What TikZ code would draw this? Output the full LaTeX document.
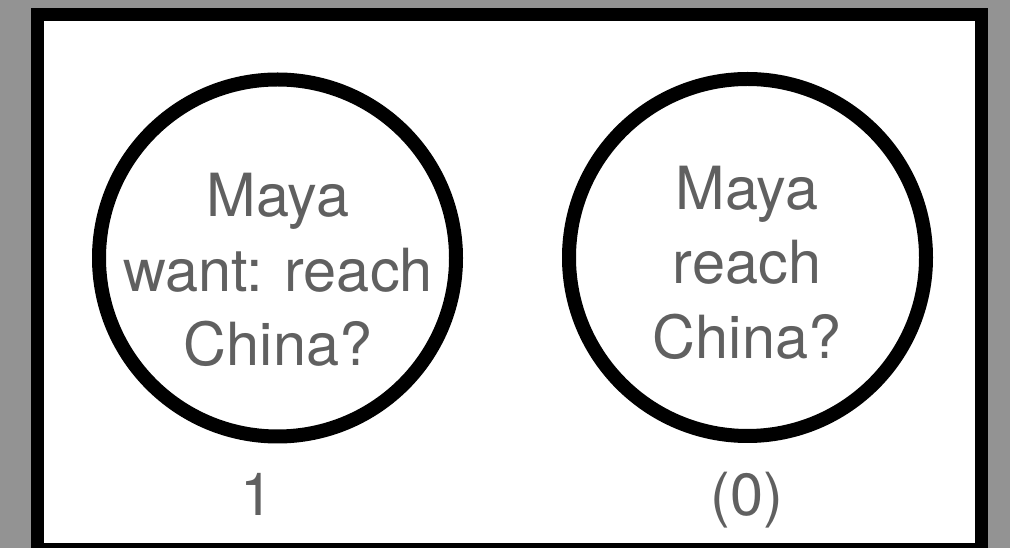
\documentclass[tikz,border=0pt]{standalone}
\usepackage{fontspec}
\setmainfont{TeX Gyre Heros}
\usetikzlibrary{positioning}

\definecolor{bggray}{RGB}{147,147,147}
\definecolor{txtgray}{RGB}{96,96,96}

\begin{document}
\begin{tikzpicture}[x=0.75pt,y=-0.75pt,
    bubble/.style={circle,draw=black,line width=10.5pt,fill=white,minimum size=267.75pt,inner sep=0pt},
    words/.style={align=center,inner sep=0pt,text=txtgray,font=\fontsize{44.6pt}{55.9pt}\selectfont}]
    \useasboundingbox (0,0) rectangle (1010,548);
    \fill[bggray] (0,0) rectangle (1010,548);
    \draw[line width=9.75pt,fill=white] (37.5,14.5) rectangle (981.5,549.5);
    \node[bubble] at (277.5,258) (4be17c02) {};
    \node[bubble] at (747.5,257.5) (9d03a6f1) {};
    \node[words,anchor=north] at (278,173.3) (c27a58e4) {Maya\\want: reach\\China?};
    \node[words,anchor=north] at (747,165.6) (e6f9b31d) {Maya\\reach\\China?};
    \node[words,anchor=base] at (257,515) (18ad4c70) {1};
    \node[words,anchor=base] at (747,515) (f05b92e8) {(0)};
\end{tikzpicture}
\end{document}
